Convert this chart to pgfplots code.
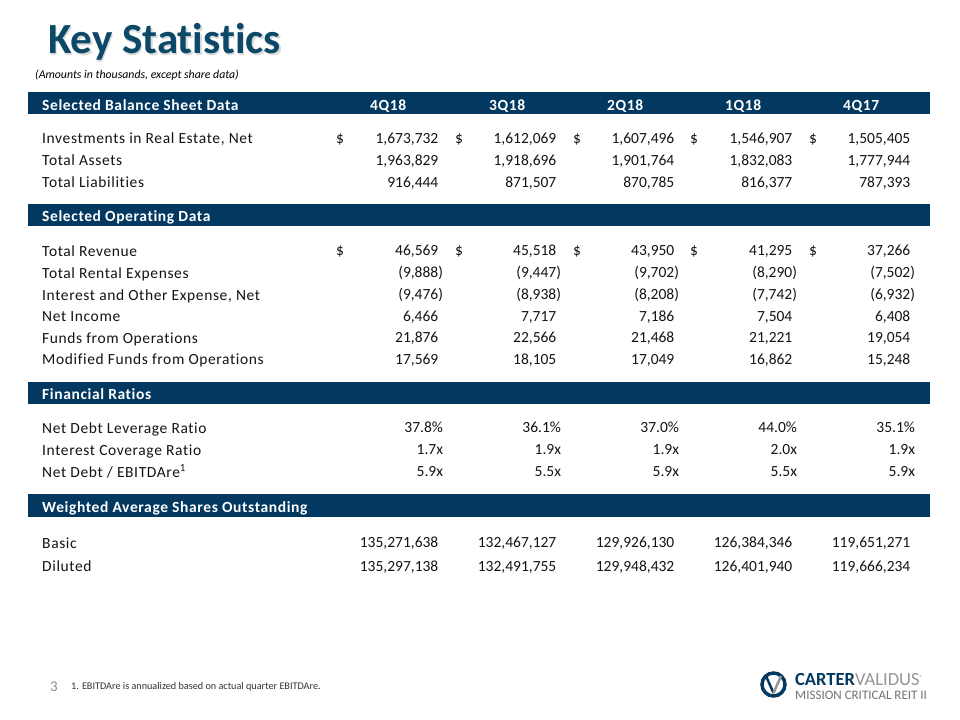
\documentclass[border=0pt]{standalone}
\usepackage{pgfplots}
\pgfplotsset{compat=1.18}
\usepackage{pgfplotstable}
\usepackage{fontspec}
\setmainfont[Ligatures=NoCommon]{Carlito}
\newfontfamily\bodyfont[LetterSpace=4, Ligatures=NoCommon]{Carlito}
\newfontfamily\numfamily[Ligatures=NoCommon]{Carlito}
\definecolor{navy}{RGB}{3,56,96}
\definecolor{titleblue}{RGB}{12,72,104}
\definecolor{logogray}{RGB}{150,150,150}
\protected\def\pp{\phantom{)}}
\newcommand\lab{\bodyfont\fontsize{15.5bp}{18bp}\selectfont\color{black!92}}
\newcommand\hdr{\bodyfont\bfseries\fontsize{15.5bp}{18bp}\selectfont\color{white}}
\newcommand\numf{\numfamily\fontsize{15.5bp}{18bp}\selectfont\color{black!92}}

% values: y = baseline (pixels from top), q1..q5 = 4Q18 3Q18 2Q18 1Q18 4Q17
\pgfplotstableread{
y q1 q2 q3 q4 q5
143.5 1,673,732\pp{} 1,612,069\pp{} 1,607,496\pp{} 1,546,907\pp{} 1,505,405\pp{}
166 1,963,829\pp{} 1,918,696\pp{} 1,901,764\pp{} 1,832,083\pp{} 1,777,944\pp{}
188 916,444\pp{} 871,507\pp{} 870,785\pp{} 816,377\pp{} 787,393\pp{}
256 46,569\pp{} 45,518\pp{} 43,950\pp{} 41,295\pp{} 37,266\pp{}
278 (9,888) (9,447) (9,702) (8,290) (7,502)
300 (9,476) (8,938) (8,208) (7,742) (6,932)
321.5 6,466\pp{} 7,717\pp{} 7,186\pp{} 7,504\pp{} 6,408\pp{}
343 21,876\pp{} 22,566\pp{} 21,468\pp{} 21,221\pp{} 19,054\pp{}
364.5 17,569\pp{} 18,105\pp{} 17,049\pp{} 16,862\pp{} 15,248\pp{}
433.3 37.8\%{} 36.1\%{} 37.0\%{} 44.0\%{} 35.1\%{}
455 1.7x 1.9x 1.9x 2.0x 1.9x
477 5.9x 5.5x 5.9x 5.5x 5.9x
548 135,271,638\pp{} 132,467,127\pp{} 129,926,130\pp{} 126,384,346\pp{} 119,651,271\pp{}
571.7 135,297,138\pp{} 132,491,755\pp{} 129,948,432\pp{} 126,401,940\pp{} 119,666,234\pp{}
}\datatbl

\pgfplotstableread{
x y s
336 143.5 \${}
455 143.5 \${}
573 143.5 \${}
690 143.5 \${}
809 143.5 \${}
336 256 \${}
455 256 \${}
573 256 \${}
690 256 \${}
809 256 \${}
}\dollartbl

\begin{document}
\begin{tikzpicture}
\begin{axis}[
  scale only axis, width=960bp, height=720bp,
  xmin=0, xmax=960, ymin=0, ymax=720, y dir=reverse,
  hide axis, clip=false,
  every node near coord/.append style={inner sep=0pt, outer sep=0pt},
  point meta=explicit symbolic,
]
\fill[white] (axis cs:0,0) rectangle (axis cs:960,720);

% title
\node[anchor=base west, inner sep=0pt, text=black, opacity=0.15] at (axis cs:49.5,55.5)
  {\fontsize{43bp}{48bp}\selectfont\bfseries Key Statistics};
\node[anchor=base west, inner sep=0pt, text=titleblue] at (axis cs:48,54)
  {\fontsize{43bp}{48bp}\selectfont\bfseries Key Statistics};
\node[anchor=base west, inner sep=0pt] at (axis cs:35,79)
  {\fontsize{11.8bp}{13bp}\selectfont\itshape (Amounts in thousands, except share data)};

% section bars
\fill[navy] (axis cs:28,92) rectangle (axis cs:930,114);
\fill[navy] (axis cs:28,204) rectangle (axis cs:930,226);
\fill[navy] (axis cs:28,381.5) rectangle (axis cs:930,403.5);
\fill[navy] (axis cs:28,493.5) rectangle (axis cs:930,517);

\node[anchor=base west, inner sep=0pt] at (axis cs:42,110.5) {\hdr Selected Balance Sheet Data};
\node[anchor=base west, inner sep=0pt] at (axis cs:370,110.5) {\hdr 4Q18};
\node[anchor=base west, inner sep=0pt] at (axis cs:489,110.5) {\hdr 3Q18};
\node[anchor=base west, inner sep=0pt] at (axis cs:607,110.5) {\hdr 2Q18};
\node[anchor=base west, inner sep=0pt] at (axis cs:725,110.5) {\hdr 1Q18};
\node[anchor=base west, inner sep=0pt] at (axis cs:843,110.5) {\hdr 4Q17};
\node[anchor=base west, inner sep=0pt] at (axis cs:42,221.5) {\hdr Selected Operating Data};
\node[anchor=base west, inner sep=0pt] at (axis cs:42,399) {\hdr Financial Ratios};
\node[anchor=base west, inner sep=0pt] at (axis cs:42,512) {\hdr Weighted Average Shares Outstanding};

% row labels
\node[anchor=base west, inner sep=0pt] at (axis cs:42,143.5) {\lab Investments in Real Estate, Net};
\node[anchor=base west, inner sep=0pt] at (axis cs:42,166) {\lab Total Assets};
\node[anchor=base west, inner sep=0pt] at (axis cs:42,188) {\lab Total Liabilities};
\node[anchor=base west, inner sep=0pt] at (axis cs:42,256) {\lab Total Revenue};
\node[anchor=base west, inner sep=0pt] at (axis cs:42,278) {\lab Total Rental Expenses};
\node[anchor=base west, inner sep=0pt] at (axis cs:42,300) {\lab Interest and Other Expense, Net};
\node[anchor=base west, inner sep=0pt] at (axis cs:42,321.5) {\lab Net Income};
\node[anchor=base west, inner sep=0pt] at (axis cs:42,343) {\lab Funds from Operations};
\node[anchor=base west, inner sep=0pt] at (axis cs:42,364.5) {\lab Modified Funds from Operations};
\node[anchor=base west, inner sep=0pt] at (axis cs:42,433.3) {\lab Net Debt Leverage Ratio};
\node[anchor=base west, inner sep=0pt] at (axis cs:42,455) {\lab Interest Coverage Ratio};
\node[anchor=base west, inner sep=0pt] at (axis cs:42,477) {\lab Net Debt / EBITDAre\textsuperscript{1}};
\node[anchor=base west, inner sep=0pt] at (axis cs:42,548) {\lab Basic};
\node[anchor=base west, inner sep=0pt] at (axis cs:42,571.7) {\lab Diluted};

% values
\addplot[draw=none, mark=none, nodes near coords={\smash{\llap{\numf\pgfplotspointmeta}}}]
  table[x expr=443, y=y, meta=q1] {\datatbl};
\addplot[draw=none, mark=none, nodes near coords={\smash{\llap{\numf\pgfplotspointmeta}}}]
  table[x expr=561, y=y, meta=q2] {\datatbl};
\addplot[draw=none, mark=none, nodes near coords={\smash{\llap{\numf\pgfplotspointmeta}}}]
  table[x expr=679, y=y, meta=q3] {\datatbl};
\addplot[draw=none, mark=none, nodes near coords={\smash{\llap{\numf\pgfplotspointmeta}}}]
  table[x expr=797, y=y, meta=q4] {\datatbl};
\addplot[draw=none, mark=none, nodes near coords={\smash{\llap{\numf\pgfplotspointmeta}}}]
  table[x expr=915, y=y, meta=q5] {\datatbl};
\addplot[draw=none, mark=none, nodes near coords={\smash{\rlap{\numf\pgfplotspointmeta}}}]
  table[x=x, y=y, meta=s] {\dollartbl};

% footer
\node[anchor=base west, inner sep=0pt, text=black!45] at (axis cs:50,691)
  {\fontsize{15bp}{16bp}\selectfont 3};
\node[anchor=base west, inner sep=0pt, text=black!80] at (axis cs:71,689)
  {\fontsize{10.2bp}{12bp}\selectfont 1. EBITDAre is annualized based on actual quarter EBITDAre.};

% logo
\draw[navy, line width=3.5bp] (axis cs:773.5,684.5) circle [radius=11.5bp];
\draw[navy, line width=2.5bp] (axis cs:766,676) -- (axis cs:773.5,693);
\draw[logogray, line width=2.5bp] (axis cs:773.5,693) -- (axis cs:781,676);
\node[anchor=base west, inner sep=0pt] at (axis cs:795,685.5)
  {\fontsize{18.5bp}{19bp}\selectfont\textcolor{navy}{\bfseries CARTER}\textcolor{logogray}{VALIDUS}\textcolor{logogray}{\raisebox{6bp}{\fontsize{6bp}{6bp}\selectfont\textregistered}}};
\node[anchor=base west, inner sep=0pt] at (axis cs:795,699)
  {\fontsize{13bp}{14bp}\selectfont\textcolor{black!55}{MISSION CRITICAL REIT II}};
\end{axis}
\end{tikzpicture}
\end{document}
